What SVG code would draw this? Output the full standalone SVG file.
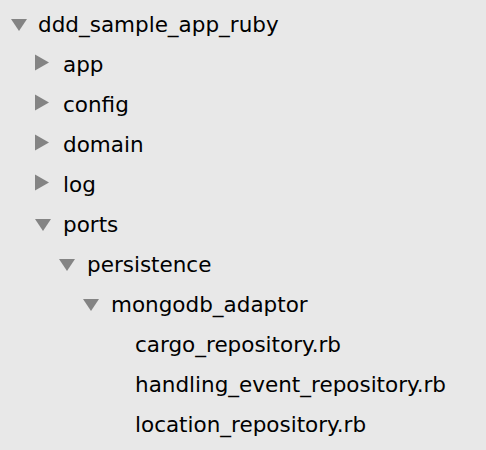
<svg xmlns="http://www.w3.org/2000/svg" width="486" height="450" viewBox="0 0 486 450">
<style>
.t{font-family:"DejaVu Sans","Liberation Sans",sans-serif;font-size:21.5px;fill:#000}
.tri{fill:#848484}
</style>
<defs>
<polygon id="down" points="0,0 16,0 8,12" class="tri"/>
<polygon id="right" points="0,0 0,16 14,8" class="tri"/>
</defs>
<rect width="486" height="450" fill="#e8e8e8"/>
<g id="node-root"><use href="#down" x="11" y="19"/><text class="t" x="38" y="32">ddd_sample_app_ruby</text></g>
<g id="node-app"><use href="#right" x="35" y="54.5"/><text class="t" x="63" y="72">app</text></g>
<g id="node-config"><use href="#right" x="35" y="94.5"/><text class="t" x="63" y="112">config</text></g>
<g id="node-domain"><use href="#right" x="35" y="134.5"/><text class="t" x="63" y="152">domain</text></g>
<g id="node-log"><use href="#right" x="35" y="174.5"/><text class="t" x="63" y="192">log</text></g>
<g id="node-ports"><use href="#down" x="35" y="219"/><text class="t" x="63" y="232">ports</text></g>
<g id="node-persistence"><use href="#down" x="59" y="259"/><text class="t" x="87" y="272">persistence</text></g>
<g id="node-mongodb"><use href="#down" x="83" y="299"/><text class="t" x="111" y="312">mongodb_adaptor</text></g>
<g id="node-cargo"><text class="t" x="135" y="352">cargo_repository.rb</text></g>
<g id="node-handling"><text class="t" x="135" y="392">handling_event_repository.rb</text></g>
<g id="node-location"><text class="t" x="135" y="432">location_repository.rb</text></g>
<g id="connectors"></g>
</svg>
